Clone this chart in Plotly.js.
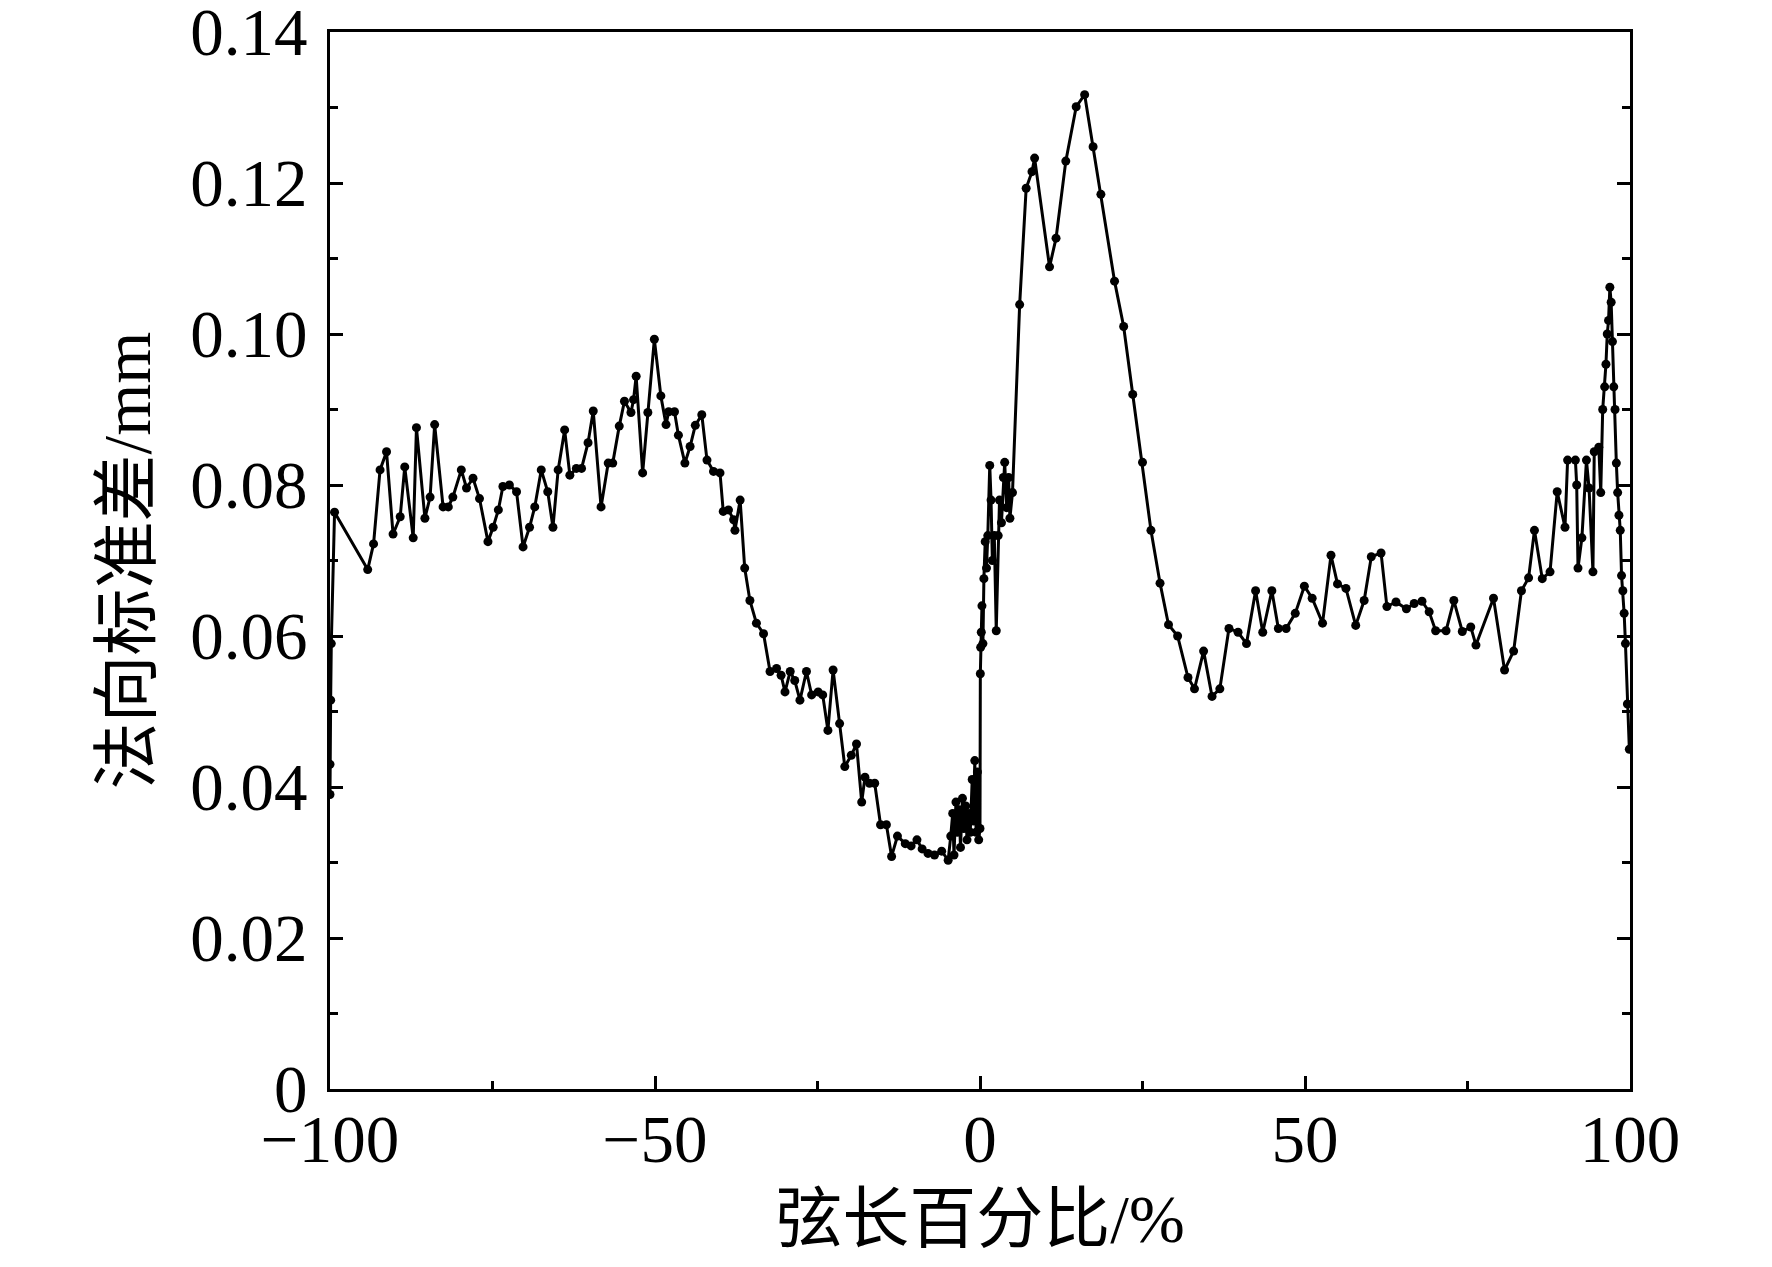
<!DOCTYPE html>
<html>
<head>
<meta charset="utf-8">
<script src="https://cdn.plot.ly/plotly-3.0.1.min.js"></script>
<style>html,body{margin:0;padding:0;background:#fff;}#chart{width:1772px;height:1267px;}</style>
</head>
<body>
<div id="chart"></div>
<script>
// chord length percentage (%)
const chordPct = [
-100.0,-100.0,-99.9,-99.8,-99.3,-94.2,-93.3,-92.3,-91.3,-90.3,-89.2,-88.5,-87.2,-86.7,-85.4,-84.6,-83.9,-82.6,-81.8,-81.1,
-79.8,-79.0,-78.0,-77.0,-75.7,-74.9,-74.1,-73.4,-72.4,-71.3,-70.3,-69.3,-68.5,-67.5,-66.5,-65.7,-64.9,-63.9,-63.1,-62.1,
-61.3,-60.3,-59.5,-58.3,-57.2,-56.5,-55.5,-54.7,-53.7,-53.3,-52.9,-51.9,-51.1,-50.1,-49.1,-48.3,-47.9,-47.0,-46.4,-45.4,
-44.6,-43.8,-42.8,-42.0,-41.0,-40.0,-39.5,-38.7,-37.9,-37.7,-36.9,-36.2,-35.4,-34.4,-33.3,-32.3,-31.3,-30.6,-30.0,-29.2,
-28.5,-27.7,-26.7,-25.9,-24.9,-24.2,-23.4,-22.6,-21.6,-20.8,-19.8,-19.0,-18.2,-17.7,-17.0,-16.2,-15.3,-14.4,-13.6,-12.7,
-11.5,-10.6,-9.7,-8.9,-8.0,-7.0,-5.9,-4.9,-4.5,-4.2,-4.0,-3.7,-3.5,-3.2,-3.0,-2.7,-2.5,-2.2,-2.0,-1.7,
-1.5,-1.2,-1.0,-0.8,-0.6,-0.4,-0.2,0.0,0.05,0.1,0.2,0.3,0.45,0.6,0.8,1.0,1.2,1.5,1.7,1.9,
2.2,2.5,2.8,3.0,3.3,3.6,3.8,4.1,4.4,4.6,5.0,6.1,7.1,8.0,8.4,10.7,11.7,13.2,14.8,16.1,
17.4,18.6,20.7,22.1,23.5,25.0,26.3,27.7,29.0,30.4,32.0,33.0,34.4,35.7,36.9,38.3,39.7,41.0,42.4,43.5,
44.9,45.9,47.1,48.5,49.9,51.1,52.7,54.0,55.0,56.3,57.8,59.1,60.2,61.7,62.6,64.0,65.6,66.8,68.0,69.1,
70.1,71.7,72.9,74.2,75.5,76.3,79.0,80.7,82.1,83.3,84.4,85.3,86.5,87.7,88.8,90.0,90.4,91.6,91.8,92.0,
92.6,93.3,93.7,94.3,94.5,95.2,95.5,95.8,96.1,96.3,96.5,96.7,96.9,97.1,97.3,97.5,97.7,97.9,98.1,98.3,
98.5,98.7,98.9,99.1,99.3,99.6,99.9
];
// normal standard deviation (mm)
const normalStd = [
0.0390,0.0430,0.0515,0.0590,0.0764,0.0688,0.0722,0.0820,0.0844,0.0735,0.0758,0.0824,0.0730,0.0876,0.0756,0.0784,0.0880,0.0771,0.0771,0.0784,
0.0820,0.0796,0.0809,0.0782,0.0725,0.0744,0.0767,0.0798,0.0800,0.0791,0.0718,0.0744,0.0771,0.0820,0.0791,0.0744,0.0820,0.0873,0.0813,0.0822,
0.0822,0.0856,0.0898,0.0771,0.0829,0.0829,0.0878,0.0911,0.0896,0.0913,0.0944,0.0816,0.0896,0.0993,0.0918,0.0880,0.0897,0.0897,0.0866,0.0829,
0.0851,0.0879,0.0893,0.0833,0.0818,0.0816,0.0765,0.0767,0.0754,0.0740,0.0780,0.0690,0.0647,0.0617,0.0603,0.0553,0.0557,0.0548,0.0526,0.0553,
0.0541,0.0515,0.0553,0.0522,0.0526,0.0522,0.0475,0.0555,0.0484,0.0427,0.0442,0.0457,0.0380,0.0413,0.0405,0.0405,0.0350,0.0350,0.0308,0.0335,
0.0325,0.0322,0.0330,0.0318,0.0312,0.0310,0.0315,0.0303,0.0335,0.0365,0.0310,0.0380,0.0340,0.0370,0.0320,0.0385,0.0345,0.0375,0.0330,0.0365,
0.0340,0.0410,0.0355,0.0435,0.0340,0.0420,0.0330,0.0345,0.0550,0.0585,0.0605,0.0640,0.0590,0.0676,0.0725,0.0690,0.0733,0.0826,0.0780,0.0700,
0.0733,0.0607,0.0733,0.0780,0.0750,0.0810,0.0830,0.0770,0.0810,0.0756,0.0790,0.1039,0.1193,0.1215,0.1233,0.1089,0.1127,0.1229,0.1301,0.1317,
0.1248,0.1185,0.1070,0.1010,0.0920,0.0830,0.0740,0.0670,0.0615,0.0600,0.0545,0.0530,0.0580,0.0520,0.0530,0.0610,0.0605,0.0590,0.0660,0.0605,
0.0660,0.0610,0.0610,0.0630,0.0666,0.0650,0.0617,0.0707,0.0669,0.0663,0.0614,0.0647,0.0705,0.0710,0.0639,0.0645,0.0636,0.0643,0.0646,0.0632,
0.0607,0.0607,0.0647,0.0606,0.0612,0.0588,0.0650,0.0555,0.0580,0.0660,0.0677,0.0740,0.0676,0.0685,0.0791,0.0744,0.0833,0.0833,0.0800,0.0690,
0.0730,0.0833,0.0796,0.0685,0.0844,0.0850,0.0790,0.0900,0.0930,0.0960,0.1000,0.1018,0.1062,0.1042,0.0990,0.0930,0.0900,0.0829,0.0790,0.0760,
0.0740,0.0680,0.0660,0.0630,0.0590,0.0510,0.0450
];
const xTickVals = [-100, -50, 0, 50, 100];
const xTickText = ['\u2212100', '\u221250', '0', '50', '100'];
const yTickVals = [0, 0.02, 0.04, 0.06, 0.08, 0.10, 0.12, 0.14];
const yTickText = ['0', '0.02', '0.04', '0.06', '0.08', '0.10', '0.12', '0.14'];
const xTitle = '弦长百分比/%';
const yTitle = '法向标准差/mm';

const fontFam = '"Liberation Serif", "Times New Roman", "Noto Sans CJK SC", serif';

const trace = {
  x: chordPct, y: normalStd, type: 'scatter', mode: 'lines+markers',
  line: {color: '#000', width: 3},
  marker: {color: '#000', size: 9, symbol: 'circle'},
  hoverinfo: 'none', showlegend: false, cliponaxis: true
};

const layout = {
  width: 1772, height: 1267,
  margin: {l: 330, r: 142, t: 32, b: 178, pad: 0},
  paper_bgcolor: '#fff', plot_bgcolor: '#fff',
  font: {family: fontFam, color: '#000', size: 67},
  xaxis: {
    range: [-100, 100], tickmode: 'array', tickvals: xTickVals, ticktext: xTickText,
    ticks: 'inside', ticklen: 13, tickwidth: 3, tickcolor: '#000', ticklabelstandoff: -10,
    ticklabeloverflow: 'allow',
    minor: {tickmode: 'array', tickvals: [-75, -25, 25, 75], ticks: 'inside', ticklen: 8, tickwidth: 3, tickcolor: '#000'},
    showline: true, linewidth: 3, linecolor: '#000', mirror: true,
    showgrid: false, zeroline: false,
    tickfont: {family: fontFam, size: 67, color: '#000'},
    title: {text: xTitle, font: {family: fontFam, size: 67, color: '#000'}, standoff: 20}
  },
  yaxis: {
    range: [0, 0.140002], tickmode: 'array', tickvals: yTickVals, ticktext: yTickText,
    ticks: 'inside', ticklen: 13, tickwidth: 3, tickcolor: '#000', ticklabelstandoff: 6,
    ticklabeloverflow: 'allow',
    minor: {tickmode: 'array', tickvals: [0.01, 0.03, 0.05, 0.07, 0.09, 0.11, 0.13], ticks: 'inside', ticklen: 8, tickwidth: 3, tickcolor: '#000'},
    showline: true, linewidth: 3, linecolor: '#000', mirror: 'ticks',
    showgrid: false, zeroline: false,
    tickfont: {family: fontFam, size: 67, color: '#000'},
    title: {text: yTitle, font: {family: fontFam, size: 67, color: '#000'}, standoff: 18}
  }
};

Plotly.newPlot('chart', [trace], layout, {staticPlot: true, displayModeBar: false});
</script>
</body>
</html>
